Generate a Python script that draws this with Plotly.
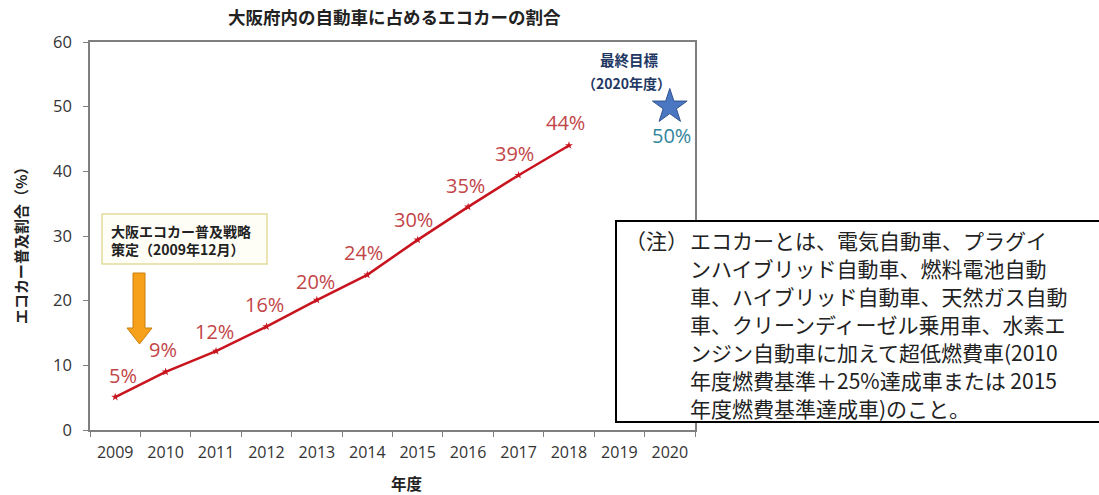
import plotly.graph_objects as go

# ---------------- data ----------------
years = ["2009", "2010", "2011", "2012", "2013", "2014",
         "2015", "2016", "2017", "2018", "2019", "2020"]
share_years = ["2009", "2010", "2011", "2012", "2013",
               "2014", "2015", "2016", "2017", "2018"]
share_values = [5.1, 9.0, 12.2, 16.0, 20.1, 24.0, 29.4, 34.5, 39.4, 44.0]
share_labels = ["5%", "9%", "12%", "16%", "20%", "24%", "30%", "35%", "39%", "44%"]
target_year = ["2020"]
target_value = [50]
target_label = "50%"
y_tick_values = [0, 10, 20, 30, 40, 50, 60]

title_text = "大阪府内の自動車に占めるエコカーの割合"
y_title = "エコカー普及割合（%）"
x_title = "年度"
strategy_text = "大阪エコカー普及戦略<br>策定（2009年12月）"
goal_line1 = "最終目標"
goal_line2 = "（2020年度）"
note_head = "（注）"
note_lines = [
    "エコカーとは、電気自動車、プラグイ",
    "ンハイブリッド自動車、燃料電池自動",
    "車、ハイブリッド自動車、天然ガス自動",
    "車、クリーンディーゼル乗用車、水素エ",
    "ンジン自動車に加えて超低燃費車(2010",
    "年度燃費基準＋25%達成車または 2015",
    "年度燃費基準達成車)のこと。",
]

# ---------------- layout geometry ----------------
W, H = 1099, 495
ML, MR, MT, MB = 90, 404, 42, 65
PW = W - ML - MR
PH = H - MT - MB


def px(X):
    return (X - ML) / PW


def py(Y):
    return (H - MB - Y) / PH


JP = "Noto Sans CJK JP"
NUM = "Open Sans"
RED_LINE = "#c8141e"
RED_TEXT = "#c24548"

# label pixel offsets (style only)
label_dx = [8, -3, -2, -2, -1, -4, -4, -3, -4, -3]
label_dy = [22, 22, 20, 22, 19, 22, 20, 21, 22, 23]

fig = go.Figure()

fig.add_trace(go.Scatter(
    x=share_years, y=share_values, mode="lines+markers",
    line=dict(color=RED_LINE, width=2.5),
    marker=dict(symbol="star", size=6, color=RED_LINE),
    hoverinfo="skip", showlegend=False,
))

fig.add_trace(go.Scatter(
    x=target_year, y=target_value, mode="markers",
    marker=dict(symbol="star", size=26, color="#4a76c2",
                line=dict(color="#2f528f", width=1)),
    hoverinfo="skip", showlegend=False,
))

annotations = []
for yr, v, lab, dx, dy in zip(share_years, share_values, share_labels, label_dx, label_dy):
    annotations.append(dict(
        x=years.index(yr), y=v, xref="x", yref="y", text=lab, showarrow=False,
        xanchor="center", yanchor="middle",
        xshift=dx, yshift=dy,
        font=dict(family=NUM, size=20, color=RED_TEXT),
    ))

annotations.append(dict(
    x=years.index(target_year[0]), y=target_value[0], xref="x", yref="y",
    text=target_label, showarrow=False, yshift=-29, xshift=2,
    xanchor="center", yanchor="middle",
    font=dict(family=NUM, size=20, color="#31859c"),
))


def pa(X, Y, text, size, color="#222222", **kw):
    d = dict(x=px(X), y=py(Y), xref="paper", yref="paper", text=text,
             showarrow=False, xanchor="center", yanchor="middle",
             font=dict(family=JP, size=size, color=color))
    d.update(kw)
    return d


annotations.append(pa(629, 60, "<b>" + goal_line1 + "</b>", 14.5, "#1f3864"))
annotations.append(pa(626, 83, "<b>" + goal_line2 + "</b>", 14, "#1f3864"))

# title
annotations.append(pa(394, 16, "<b>" + title_text + "</b>", 17.5))
# axis titles
annotations.append(pa(21, 242, "<b>" + y_title + "</b>", 15, textangle=-90))
annotations.append(pa(407, 483, "<b>" + x_title + "</b>", 15.5))

# strategy box text
annotations.append(pa(109, 240, "<b>" + strategy_text + "</b>", 14,
                      xanchor="left", align="left"))

# note text
annotations.append(pa(623, 240, note_head, 21, "#222222", xanchor="left"))
for i, line in enumerate(note_lines):
    annotations.append(pa(688, 240 + 28 * i, line, 21, "#222222", xanchor="left"))

shapes = [
    # strategy box
    dict(type="rect", xref="paper", yref="paper",
         x0=px(102), x1=px(267), y0=py(264), y1=py(214),
         line=dict(color="#e3dc9c", width=1.5), fillcolor="#fffef6", layer="above"),
    # orange arrow
    dict(type="path", xref="paper", yref="paper", layer="above",
         path=(f"M {px(133)},{py(273)} L {px(145)},{py(273)} L {px(145)},{py(328)} "
               f"L {px(152)},{py(328)} L {px(139.5)},{py(344)} L {px(127)},{py(328)} "
               f"L {px(133)},{py(328)} Z"),
         fillcolor="#f7a11a", line=dict(color="#c8800e", width=1)),
    # note box
    dict(type="rect", xref="paper", yref="paper",
         x0=px(616), x1=px(1115), y0=py(422), y1=py(221),
         line=dict(color="#000000", width=2), fillcolor="#ffffff", layer="above"),
]

fig.update_layout(
    width=W, height=H,
    margin=dict(l=ML, r=MR, t=MT, b=MB, pad=0),
    paper_bgcolor="white", plot_bgcolor="white",
    annotations=annotations, shapes=shapes,
    showlegend=False,
)

fig.update_xaxes(
    type="category", categoryorder="array", categoryarray=years,
    range=[-0.5, len(years) - 0.5],
    showline=True, linecolor="#7f7f7f", linewidth=1.5, mirror=True,
    ticks="outside", tickson="boundaries", ticklen=5, tickcolor="#7f7f7f",
    tickwidth=1.2, showgrid=False, zeroline=False,
    tickfont=dict(family=NUM, size=16, color="#333333"),
    ticklabelstandoff=7,
)
fig.update_yaxes(
    range=[0, 60], tickvals=y_tick_values,
    showline=True, linecolor="#7f7f7f", linewidth=1.5, mirror=True,
    ticks="outside", ticklen=5, tickcolor="#7f7f7f", tickwidth=1.2,
    showgrid=False, zeroline=False,
    tickfont=dict(family=NUM, size=16.5, color="#333333"),
    ticklabelstandoff=8,
)

fig.write_html("out.html")
